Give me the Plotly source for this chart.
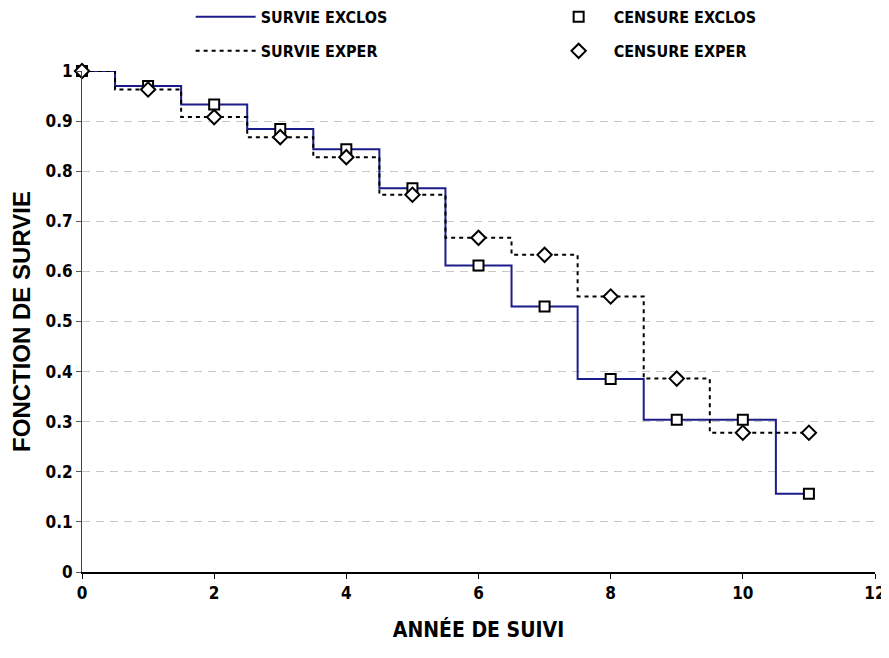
import plotly.graph_objects as go

years = [0, 1, 2, 3, 4, 5, 6, 7, 8, 9, 10, 11]
survie_exclos = [1.0, 0.970, 0.933, 0.884, 0.844, 0.766, 0.612, 0.530, 0.385, 0.304, 0.304, 0.156]
survie_exper = [1.0, 0.963, 0.908, 0.868, 0.828, 0.753, 0.667, 0.633, 0.550, 0.386, 0.278, 0.278]

x_ticks = [0, 2, 4, 6, 8, 10, 12]
y_ticks = [0, 0.1, 0.2, 0.3, 0.4, 0.5, 0.6, 0.7, 0.8, 0.9, 1]
y_ticklabels = ["0", "0.1", "0.2", "0.3", "0.4", "0.5", "0.6", "0.7", "0.8", "0.9", "1"]

narrow = "Liberation Sans Narrow, Arial Narrow, DejaVu Sans Condensed, sans-serif"
legend_font = dict(family=narrow, size=16, color="black", weight="bold")

fig = go.Figure()
fig.add_trace(go.Scatter(
    x=years, y=survie_exclos, mode="lines", line_shape="hvh",
    line=dict(color="#1c1c8a", width=2), name="SURVIE EXCLOS", cliponaxis=False,
    legend="legend"))
fig.add_trace(go.Scatter(
    x=years, y=survie_exclos, mode="markers", name="CENSURE EXCLOS",
    marker=dict(symbol="square", size=10, color="white", line=dict(color="black", width=2)),
    cliponaxis=False, legend="legend"))
fig.add_trace(go.Scatter(
    x=years, y=survie_exper, mode="lines", line_shape="hvh",
    line=dict(color="black", width=2, dash="4px,4px"), name="SURVIE EXPER", cliponaxis=False,
    legend="legend2"))
fig.add_trace(go.Scatter(
    x=years, y=survie_exper, mode="markers", name="CENSURE EXPER",
    marker=dict(symbol="diamond", size=11, color="white", line=dict(color="black", width=2)),
    cliponaxis=False, legend="legend2"))

common_legend = dict(orientation="h", x=0.137, xanchor="left", yanchor="middle",
                     entrywidth=278, entrywidthmode="pixels", font=legend_font,
                     traceorder="normal", itemwidth=60, bgcolor="rgba(0,0,0,0)")

fig.update_layout(
    width=881, height=634,
    margin=dict(l=74, r=14, t=63, b=70, autoexpand=False),
    plot_bgcolor="white", paper_bgcolor="white",
    showlegend=True,
    legend=dict(y=1.108, **common_legend),
    legend2=dict(y=1.040, **common_legend),
    xaxis=dict(range=[0, 12], tickvals=x_ticks, ticks="outside", ticklen=5,
               tickcolor="black", showline=True, linecolor="black", linewidth=1.5,
               showgrid=False, zeroline=False, automargin=False,
               tickfont=dict(family=narrow, size=17, color="black", weight="bold"),
               title=dict(text="ANNÉE DE SUIVI", standoff=22,
                          font=dict(family=narrow, size=21, color="black", weight="bold"))),
    yaxis=dict(range=[0, 1], tickvals=y_ticks, ticktext=y_ticklabels, ticks="outside",
               ticklen=5, tickcolor="#555", showline=True, linecolor="#444", linewidth=1,
               showgrid=True, gridcolor="#c8c8c8", griddash="8px,6px", gridwidth=1,
               zeroline=False, automargin=False,
               tickfont=dict(family=narrow, size=17, color="black", weight="bold"),
               title=dict(text="FONCTION DE SURVIE", standoff=14,
                          font=dict(family="Liberation Sans, Arial, sans-serif", size=24,
                                    color="black", weight="bold"))),
)

fig.write_html("out.html")
